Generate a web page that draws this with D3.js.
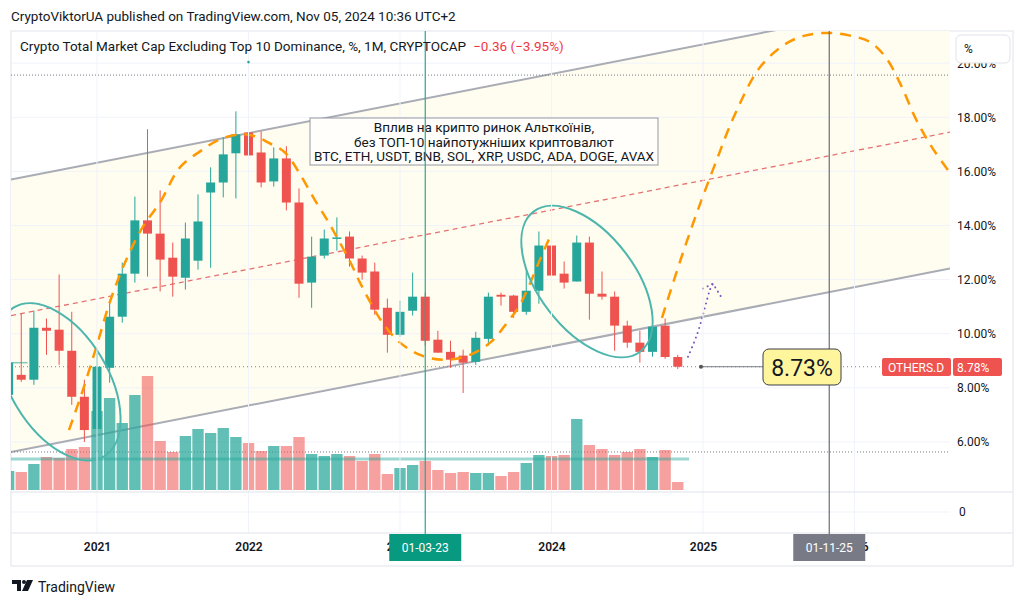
<!DOCTYPE html>
<html lang="en">
<head>
<meta charset="UTF-8">
<title>OTHERS.D</title>
<script src="https://cdn.jsdelivr.net/npm/d3@7"></script>
<style>
  body { margin: 0; background: #fff; }
  svg { display: block; font-family: Roboto, "Noto Sans", sans-serif; }
</style>
</head>
<body>
<svg id="chart" width="1024" height="605"></svg>
<script>
// monthly candles OTHERS.D, Jun 2020 .. Nov 2024 (values in %)
var months = ["2020-06","2020-07","2020-08","2020-09","2020-10","2020-11","2020-12",
  "2021-01","2021-02","2021-03","2021-04","2021-05","2021-06","2021-07","2021-08","2021-09","2021-10","2021-11","2021-12",
  "2022-01","2022-02","2022-03","2022-04","2022-05","2022-06","2022-07","2022-08","2022-09","2022-10","2022-11","2022-12",
  "2023-01","2023-02","2023-03","2023-04","2023-05","2023-06","2023-07","2023-08","2023-09","2023-10","2023-11","2023-12",
  "2024-01","2024-02","2024-03","2024-04","2024-05","2024-06","2024-07","2024-08","2024-09","2024-10","2024-11"];
var opens = [7.74, 8.48, 8.30, 10.22, 10.15, 9.37, 7.67,
  6.48, 8.74, 10.63, 12.22, 14.19, 13.70, 12.81, 12.07, 12.70, 15.22, 15.59, 16.67,
  17.44, 16.70, 15.63, 16.48, 14.85, 11.89, 12.89, 13.52, 13.59, 12.78, 12.30, 10.96,
  9.96, 10.85, 11.37, 9.78, 9.33, 9.19, 8.96, 9.81, 11.44, 11.41, 10.81, 11.59,
  13.26, 12.22, 11.93, 13.37, 11.48, 11.37, 10.30, 9.67, 9.33, 10.30, 9.14];
var highs = [9.04, 10.74, 10.85, 10.56, 12.19, 10.81, 8.30,
  9.30, 11.15, 12.63, 15.07, 17.56, 15.30, 13.37, 14.11, 15.15, 16.15, 17.26, 18.22,
  19.52, 17.48, 16.89, 16.93, 15.37, 13.59, 13.85, 14.30, 13.78, 12.89, 12.63, 11.30,
  11.22, 12.26, 11.52, 10.11, 9.74, 9.41, 10.07, 11.52, 11.52, 11.44, 12.41, 13.78,
  13.67, 12.67, 13.63, 13.59, 12.30, 11.56, 10.48, 10.11, 10.59, 10.56, 9.22];
var lows = [7.56, 8.22, 8.11, 9.22, 8.85, 7.37, 6.00,
  5.63, 8.19, 10.41, 11.89, 12.11, 11.56, 11.37, 11.63, 12.37, 12.44, 15.04, 15.00,
  16.15, 15.41, 15.44, 14.56, 11.33, 10.96, 12.78, 13.07, 12.48, 12.00, 10.70, 9.30,
  9.89, 10.67, 9.56, 9.30, 8.74, 7.81, 8.85, 9.56, 11.04, 10.59, 10.70, 11.11,
  11.56, 11.67, 11.93, 10.52, 11.26, 9.37, 9.48, 8.93, 9.15, 9.07, 8.70];
var closes = [8.93, 8.30, 10.22, 10.11, 9.37, 7.67, 6.44,
  8.78, 10.63, 12.22, 14.19, 13.70, 12.74, 12.11, 13.52, 14.15, 15.59, 16.63, 17.37,
  16.59, 15.59, 16.48, 14.85, 11.85, 12.85, 13.52, 13.56, 12.78, 12.26, 10.89, 9.96,
  10.81, 11.37, 9.74, 9.30, 9.04, 8.93, 9.85, 11.37, 11.37, 10.81, 11.59, 13.26,
  12.15, 11.89, 13.37, 11.48, 11.37, 10.30, 9.67, 9.33, 10.26, 9.14, 8.78];
// volume, relative units
var volumes = [19, 18, 26, 33, 32, 41, 43,
  79, 92, 67, 95, 114, 49, 38, 54, 61, 57, 62, 53,
  47, 39, 44, 44, 53, 36, 34, 36, 34, 29, 36, 16,
  22, 25, 29, 20, 17, 18, 17, 17, 14, 18, 27, 35,
  34, 35, 71, 45, 41, 35, 38, 41, 33, 40, 8];

// axis ticks (x in months since Jan 2020)
var yearTicks = [12, 24, 36, 48, 60, 72];
var priceTicks = [6, 8, 10, 12, 14, 16, 18, 20];

// drawings: parallel channel (month, %)
var channelMonths = [5.19, 79.56];
var channelLow = [5.63, 12.41];
var channelMid = [10.67, 17.45];
var channelHigh = [15.70, 22.48];
var levelLines = [19.56, 5.63];        // gray dotted horizontals
var volumeLevel = {from: 5.19, to: 58.9, value: 5.37};

// orange dashed waves
var waveAMonths = [9.78, 10.89, 12.00, 13.03, 14.22, 15.64, 16.99, 18.57, 20.16, 21.74, 23.33, 24.51, 25.54, 26.89, 28.08, 29.27, 30.30, 31.01, 32.04, 32.83, 33.62, 34.57, 36.00, 37.74, 39.64, 41.54, 43.21, 44.48, 45.50, 47.09, 47.88];
var waveAValues = [6.44, 7.93, 9.59, 11.19, 12.63, 13.96, 14.85, 16.15, 16.74, 17.19, 17.37, 17.30, 17.07, 16.70, 15.89, 14.93, 14.15, 13.56, 12.67, 11.89, 11.19, 10.44, 9.67, 9.19, 9.04, 9.22, 9.70, 10.41, 11.07, 12.74, 13.59];
var waveBMonths = [56.75, 58.18, 59.52, 60.95, 62.53, 64.51, 66.50, 68.08, 69.90, 71.64, 73.23, 74.50, 75.68, 76.87, 78.14, 79.72];
var waveBValues = [10.59, 12.67, 14.48, 16.26, 18.11, 19.85, 20.70, 21.02, 21.12, 21.02, 20.78, 20.20, 19.19, 17.93, 16.89, 15.85];

// purple dotted arrow
var arrowMonths = [58.81, 59.52, 60.00, 60.32, 60.55, 60.79];
var arrowValues = [9.15, 9.96, 10.70, 11.26, 11.63, 11.85];
var arrowHead = [[60.00, 11.67], [60.79, 11.85], [61.43, 11.37]];

// ellipses (center month, center %)
var ellipses = [{m: 8.99, v: 8.22, rx: 87, ry: 49, rot: 58.8}, {m: 50.81, v: 11.93, rx: 88, ry: 48, rot: 52.6}];

var markMonths = [38, 70];   // vertical lines 01-03-23 and 01-11-25
var lastClose = 8.78;
var labelPoint = {m: 59.84, v: 8.78, text: "8.73%"};

var noteLines = ["Вплив на крипто ринок Альткоїнів,", "без ТОП-10 найпотужніших криптовалют", "BTC, ETH, USDT, BNB, SOL, XRP, USDC, ADA, DOGE, AVAX"];

var up = "#26a69a", down = "#ef5350", textCol = "#131722", grid = "#f0f3fa";

var svg = d3.select("#chart");
// pane edges (don't use "top", it clashes with window.top)
var pL = 11, pR = 950, pT = 31, pB = 492;

var xScale = d3.scaleLinear().domain([5.188, 79.564]).range([pL, pR]);
var yScale = d3.scaleLinear().domain([4.15, 21.19]).range([pB, pT]);
var volScale = d3.scaleLinear().domain([0, 100]).range([490, 390]);
var step = xScale(1) - xScale(0);

var candles = months.map(function(s, i) {
  var p = s.split("-");
  return {m: (+p[0] - 2020) * 12 + (+p[1] - 1), o: opens[i], h: highs[i], l: lows[i], c: closes[i], vol: volumes[i]};
});

// frame
svg.append("rect").attr("x", pL).attr("y", pT).attr("width", 1013 - pL).attr("height", 566 - pT)
  .attr("fill", "#fff").attr("stroke", "#e0e3eb");
svg.append("defs").append("clipPath").attr("id", "plot")
  .append("rect").attr("x", pL).attr("y", pT).attr("width", pR - pL).attr("height", pB - pT);

var plot = svg.append("g").attr("clip-path", "url(#plot)");

// channel background
plot.append("path")
  .attr("d", d3.line()([[xScale(channelMonths[0]), yScale(channelHigh[0])], [xScale(channelMonths[1]), yScale(channelHigh[1])],
    [xScale(channelMonths[1]), yScale(channelLow[1])], [xScale(channelMonths[0]), yScale(channelLow[0])]]) + "Z")
  .attr("fill", "#fffcf0");

// grid
plot.selectAll(".hgrid").data(priceTicks).enter().append("line")
  .attr("x1", pL).attr("x2", pR).attr("y1", d => yScale(d)).attr("y2", d => yScale(d))
  .attr("stroke", grid);
svg.selectAll(".vgrid").data(yearTicks).enter().append("line")
  .attr("x1", d => xScale(d)).attr("x2", d => xScale(d)).attr("y1", pT).attr("y2", 533)
  .attr("stroke", grid);

// lower empty pane
svg.append("line").attr("x1", pL).attr("x2", 1013).attr("y1", pB).attr("y2", pB).attr("stroke", "#e0e3eb");
svg.append("line").attr("x1", pL).attr("x2", pR).attr("y1", 512).attr("y2", 512).attr("stroke", grid);
svg.append("line").attr("x1", pL).attr("x2", 1013).attr("y1", 533).attr("y2", 533).attr("stroke", "#e0e3eb");
svg.append("text").attr("x", 959).attr("y", 516).attr("font-size", 12).attr("fill", textCol).text("0");

// channel lines
function chLine(vals, col, w, dash) {
  plot.append("line")
    .attr("x1", xScale(channelMonths[0])).attr("y1", yScale(vals[0]))
    .attr("x2", xScale(channelMonths[1])).attr("y2", yScale(vals[1]))
    .attr("stroke", col).attr("stroke-width", w).attr("stroke-dasharray", dash);
}
chLine(channelHigh, "#a9acb4", 2, null);
chLine(channelLow, "#a9acb4", 2, null);
chLine(channelMid, "#e57373", 1.3, "5,4");

plot.selectAll(".lvl").data(levelLines).enter().append("line")
  .attr("x1", pL).attr("x2", pR).attr("y1", d => yScale(d)).attr("y2", d => yScale(d))
  .attr("stroke", "#787b86").attr("stroke-dasharray", "1,2");

// volume
plot.selectAll(".vol").data(candles).enter().append("rect")
  .attr("x", d => xScale(d.m) - step * 0.45).attr("width", step * 0.9)
  .attr("y", d => volScale(d.vol)).attr("height", d => volScale(0) - volScale(d.vol))
  .attr("fill", d => d.c >= d.o ? "rgba(38,166,154,0.72)" : "rgba(239,83,80,0.55)");

plot.append("line")
  .attr("x1", xScale(volumeLevel.from)).attr("x2", xScale(volumeLevel.to))
  .attr("y1", yScale(volumeLevel.value)).attr("y2", yScale(volumeLevel.value))
  .attr("stroke", "rgba(38,166,154,0.45)").attr("stroke-width", 3);

// small teal segment at the left edge
plot.append("line").attr("x1", pL).attr("x2", xScale(6.5)).attr("y1", yScale(8.93)).attr("y2", yScale(8.93))
  .attr("stroke", "rgba(38,166,154,0.6)").attr("stroke-width", 1.5);

// candles
var cg = plot.selectAll(".candle").data(candles).enter().append("g");
cg.append("line")
  .attr("x1", d => xScale(d.m)).attr("x2", d => xScale(d.m))
  .attr("y1", d => yScale(d.h)).attr("y2", d => yScale(d.l))
  .attr("stroke", d => d.c >= d.o ? up : down);
cg.append("rect")
  .attr("x", d => xScale(d.m) - 4.5).attr("width", 9)
  .attr("y", d => yScale(Math.max(d.o, d.c)))
  .attr("height", d => Math.max(1.5, Math.abs(yScale(d.o) - yScale(d.c))))
  .attr("fill", d => d.c >= d.o ? up : down);

// orange waves
var curve = d3.line().x(d => xScale(d[0])).y(d => yScale(d[1])).curve(d3.curveCatmullRom);
[[waveAMonths, waveAValues], [waveBMonths, waveBValues]].forEach(function(w) {
  plot.append("path").attr("d", curve(d3.zip(w[0], w[1])))
    .attr("fill", "none").attr("stroke", "#ff9800").attr("stroke-width", 2.5).attr("stroke-dasharray", "11,8");
});

// ellipses
plot.selectAll(".ell").data(ellipses).enter().append("ellipse")
  .attr("cx", 0).attr("cy", 0).attr("rx", d => d.rx).attr("ry", d => d.ry)
  .attr("transform", d => "translate(" + xScale(d.m) + "," + yScale(d.v) + ") rotate(" + d.rot + ")")
  .attr("fill", "none").attr("stroke", "#4db6ac").attr("stroke-width", 2);

// purple arrow
plot.append("path").attr("d", curve(d3.zip(arrowMonths, arrowValues)))
  .attr("fill", "none").attr("stroke", "#7e57c2").attr("stroke-width", 2)
  .attr("stroke-dasharray", "0.1,5").attr("stroke-linecap", "round");
plot.append("path").attr("d", d3.line().x(d => xScale(d[0])).y(d => yScale(d[1]))(arrowHead))
  .attr("fill", "none").attr("stroke", "#7e57c2").attr("stroke-width", 2)
  .attr("stroke-dasharray", "0.1,5").attr("stroke-linecap", "round");

// last price line
svg.append("line").attr("x1", pL).attr("x2", 882).attr("y1", yScale(lastClose)).attr("y2", yScale(lastClose))
  .attr("stroke", down).attr("stroke-dasharray", "1,3");

// note box
var note = svg.append("g");
note.append("rect").attr("x", 310).attr("y", 118).attr("width", 348).attr("height", 47)
  .attr("fill", "#fffefa").attr("stroke", "#9598a1");
note.selectAll("text").data(noteLines).enter().append("text")
  .attr("x", 484).attr("y", (d, i) => 132 + i * 14.5).attr("text-anchor", "middle")
  .attr("font-size", 13.5).attr("fill", textCol).text(d => d);

// vertical markers
svg.selectAll(".mark").data(markMonths).enter().append("line")
  .attr("x1", d => xScale(d)).attr("x2", d => xScale(d)).attr("y1", pT).attr("y2", 534)
  .attr("stroke", (d, i) => i == 0 ? "#22ab94" : "#6a6d78").attr("stroke-width", 1.2);
svg.append("circle").attr("cx", xScale(24)).attr("cy", yScale(20.04)).attr("r", 1.3).attr("fill", up);

// price label tool
svg.append("line").attr("x1", xScale(labelPoint.m)).attr("x2", 763)
  .attr("y1", yScale(labelPoint.v)).attr("y2", yScale(labelPoint.v)).attr("stroke", "#787b86");
svg.append("circle").attr("cx", xScale(labelPoint.m)).attr("cy", yScale(labelPoint.v)).attr("r", 2).attr("fill", "#555");
svg.append("rect").attr("x", 763).attr("y", 349).attr("width", 78).attr("height", 36).attr("rx", 6)
  .attr("fill", "#fff59d").attr("stroke", "#3a3d46");
svg.append("text").attr("x", 802).attr("y", 376).attr("text-anchor", "middle")
  .attr("font-size", 23).attr("fill", textCol).text(labelPoint.text);

// price axis
var yAxis = svg.append("g").attr("transform", "translate(" + pR + ",0)")
  .call(d3.axisRight(yScale).tickValues(priceTicks).tickSize(0).tickPadding(7).tickFormat(d => d.toFixed(2) + "%"));
yAxis.select(".domain").remove();
yAxis.selectAll("text").attr("font-size", 12).attr("font-family", "Roboto, sans-serif").attr("fill", textCol);

svg.append("rect").attr("x", 956).attr("y", 35).attr("width", 54).attr("height", 28).attr("rx", 5)
  .attr("fill", "#fff").attr("stroke", "#e0e3eb");
svg.append("text").attr("x", 964).attr("y", 53).attr("font-size", 12).attr("fill", textCol).text("%");

// last value labels
svg.append("rect").attr("x", 882).attr("y", 358).attr("width", 69).attr("height", 18).attr("rx", 2).attr("fill", down);
svg.append("text").attr("x", 916).attr("y", 371.5).attr("text-anchor", "middle").attr("font-size", 12)
  .attr("fill", "#fff").text("OTHERS.D");
svg.append("rect").attr("x", 953).attr("y", 358).attr("width", 49).attr("height", 18).attr("rx", 2).attr("fill", down);
svg.append("text").attr("x", 957).attr("y", 371.5).attr("font-size", 12)
  .attr("fill", "#fff").text(lastClose.toFixed(2) + "%");

// time axis
var xAxis = svg.append("g").attr("transform", "translate(0,542)")
  .call(d3.axisBottom(xScale).tickValues(yearTicks).tickSize(0).tickPadding(0).tickFormat(d => 2020 + d / 12));
xAxis.select(".domain").remove();
xAxis.selectAll("text").attr("font-size", 12).attr("font-weight", 600).attr("font-family", "Roboto, sans-serif").attr("fill", textCol);

var markLabels = ["01-03-23", "01-11-25"];
markMonths.forEach(function(m, i) {
  svg.append("rect").attr("x", xScale(m) - 36).attr("y", 534).attr("width", 72).attr("height", 27)
    .attr("fill", i == 0 ? "#089981" : "#787b86");
  svg.append("text").attr("x", xScale(m)).attr("y", 552).attr("text-anchor", "middle")
    .attr("font-size", 12).attr("fill", "#fff").text(markLabels[i]);
});

// header texts
svg.append("text").attr("x", 11).attr("y", 21).attr("font-size", 13.5).attr("fill", textCol)
  .text("CryptoViktorUA published on TradingView.com, Nov 05, 2024 10:36 UTC+2");
var legend = svg.append("text").attr("x", 20).attr("y", 51).attr("font-size", 13.5).attr("fill", textCol);
legend.append("tspan").text("Crypto Total Market Cap Excluding Top 10 Dominance, %, 1M, CRYPTOCAP");
legend.append("tspan").attr("dx", 7).attr("fill", "#f23645").text("\u22120.36 (\u22123.95%)");

// footer logo
var logo = svg.append("g").attr("fill", textCol);
logo.append("path").attr("d", "M12 580 h9 v11 h-4 v-7 h-5 z");
logo.append("circle").attr("cx", 24).attr("cy", 582).attr("r", 2);
logo.append("path").attr("d", "M27 580 h6 l-5 11 h-6 z");
svg.append("text").attr("x", 38).attr("y", 592).attr("font-size", 14).attr("fill", textCol).text("TradingView");
</script>
</body>
</html>
